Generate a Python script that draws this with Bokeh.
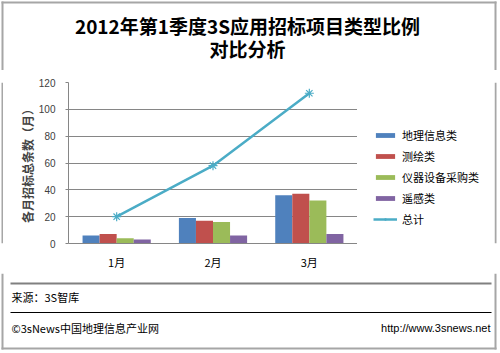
from bokeh.plotting import figure
from bokeh.layouts import column, row
from bokeh.models import (FactorRange, Range1d, FixedTicker, Legend, LegendItem)
from bokeh.core.properties import value
from bokeh.transform import dodge
from bokeh.embed import file_html
from bokeh.resources import INLINE

months = ["1月", "2月", "3月"]
series_names = ["地理信息类", "测绘类", "仪器设备采购类", "遥感类"]
geo = [6, 19, 36]
survey = [7, 17, 37]
instrument = [4, 16, 32]
remote = [3, 6, 7]
total = [20, 58, 112]
y_ticks = [0, 20, 40, 60, 80, 100, 120]
colors = ["#4F81BD", "#C0504D", "#9BBB59", "#8064A2"]
line_color = "#4BACC6"

title1 = "2012年第1季度3S应用招标项目类型比例"
title2 = "对比分析"
y_label = "各月招标总条数（月）"
source_text = "来源：3S智库"
footer_left = "©3sNews中国地理信息产业网"
footer_right = "http://www.3snews.net"

CJK = "Noto Sans CJK SC"
BORDER = "#A6A6A6"


def blank(w, h):
    f = figure(width=w, height=h, x_range=Range1d(0, w), y_range=Range1d(h, 0),
               output_backend="svg", toolbar_location=None,
               x_axis_location=None, y_axis_location=None,
               min_border=0, min_border_left=0, min_border_right=0,
               min_border_top=0, min_border_bottom=0)
    f.grid.visible = False
    f.outline_line_color = None
    f.background_fill_color = "white"
    f.border_fill_color = "white"
    return f


# ---- title area (y 0..70)
top = blank(500, 70)
top.quad(left=[1, 1, 494], right=[496, 3, 496], top=[1, 1, 1], bottom=[3, 70, 70],
         fill_color=BORDER, line_color=None)
top.text(x=[247, 247], y=[25, 48], text=[title1, title2], text_font=value(CJK),
         text_font_size="19px", text_font_style="bold", text_align="center",
         text_baseline="middle", text_color="#000000")

# ---- main chart (y 70..273, x 3..357)
MW, MH = 354, 203
p = figure(width=MW, height=MH, x_range=FactorRange(*months), y_range=Range1d(0, 120),
           output_backend="svg", toolbar_location=None,
           min_border_left=65, min_border_right=0,
           min_border_top=12, min_border_bottom=30)
p.outline_line_color = None
p.background_fill_color = "white"
p.border_fill_color = "white"

data = dict(m=months, s0=geo, s1=survey, s2=instrument, s3=remote, t=total)
keys = ["s0", "s1", "s2", "s3"]
bw = 0.177
for i, key in enumerate(keys):
    p.vbar(x=dodge("m", (i - 1.5) * bw, range=p.x_range), top=key, width=bw,
           source=data, fill_color=colors[i], line_color=None)
p.line(x="m", y="t", source=data, line_color=line_color, line_width=2.5)
p.scatter(x="m", y="t", source=data, marker="asterisk", size=9,
          line_color=line_color, line_width=1.2)

p.yaxis.ticker = FixedTicker(ticks=y_ticks)
p.yaxis.minor_tick_line_color = None
p.yaxis.major_tick_in = 0
p.yaxis.major_tick_out = 3
p.yaxis.major_label_standoff = 10
p.yaxis.axis_line_color = "#868686"
p.yaxis.major_tick_line_color = "#868686"
p.yaxis.major_label_text_font = "Liberation Sans"
p.yaxis.major_label_text_font_size = "10px"
p.yaxis.major_label_text_color = "#404040"
p.yaxis.axis_label = y_label
p.yaxis.axis_label_text_font = CJK
p.yaxis.axis_label_text_font_style = "bold"
p.yaxis.axis_label_text_font_size = "12px"
p.yaxis.axis_label_standoff = 0

p.xaxis.axis_line_color = "#868686"
p.xaxis.major_tick_line_color = None
p.xaxis.major_tick_in = 0
p.xaxis.major_tick_out = 0
p.xaxis.minor_tick_line_color = None
p.xaxis.major_label_standoff = 10
p.xaxis.major_label_text_font = CJK
p.xaxis.major_label_text_font_size = "11px"
p.xaxis.major_label_text_color = "#000000"

p.xgrid.grid_line_color = None
p.ygrid.grid_line_color = "#868686"

# ---- legend panel (x 357..494)
LW = 137
lg = figure(width=LW, height=MH, x_range=FactorRange(*months), y_range=Range1d(0, 120),
            output_backend="svg", toolbar_location=None,
            x_axis_location=None, y_axis_location=None,
            min_border=0, min_border_left=0, min_border_right=0,
            min_border_top=0, min_border_bottom=0)
lg.grid.visible = False
lg.outline_line_color = None
lg.background_fill_color = "white"
lg.border_fill_color = "white"
items = []
for i, key in enumerate(keys):
    r = lg.vbar(x="m", top=key, width=bw, source=data, fill_color=colors[i],
                line_color=None, visible=False)
    items.append(LegendItem(label=series_names[i], renderers=[r]))
rl = lg.line(x="m", y="t", source=data, line_color=line_color, line_width=2.5, visible=False)
rm = lg.scatter(x="m", y="t", source=data, marker="asterisk", size=9,
                line_color=line_color, line_width=1.2, visible=False)
items.append(LegendItem(label="总计", renderers=[rl, rm]))
legend = Legend(items=items, location=(16, 16), padding=0, margin=0,
                border_line_color=None, background_fill_alpha=0,
                glyph_width=24, glyph_height=6, label_height=16, spacing=5,
                label_standoff=5, label_text_font=CJK, label_text_font_size="11px",
                label_text_color="#000000", label_text_baseline="middle")
lg.add_layout(legend, "center")

left_strip = blank(3, MH)
left_strip.quad(left=[1], right=[3], top=[0], bottom=[MH], fill_color=BORDER, line_color=None)
right_strip = blank(6, MH)
right_strip.quad(left=[0], right=[2], top=[0], bottom=[MH], fill_color=BORDER, line_color=None)

# ---- footer area (y 273..353)
bot = blank(500, 80)
bot.quad(left=[1, 1, 494], right=[496, 3, 496], top=[74, 0, 0], bottom=[76, 76, 76],
         fill_color=BORDER, line_color=None)
bot.quad(left=[10, 10], right=[491, 491], top=[9, 38.5], bottom=[11, 39.5],
         fill_color=["#808080", "#000000"], line_color=None)
bot.text(x=[11, 11], y=[23, 54], text=[source_text, footer_left], text_font=value(CJK),
         text_font_size="11px", text_align="left", text_baseline="middle",
         text_color="#000000")
bot.text(x=[490], y=[54], text=[footer_right], text_font=value("Liberation Sans"),
         text_font_size="11px", text_align="right", text_baseline="middle",
         text_color="#000000")

layout = column(top, row(left_strip, p, lg, right_strip), bot)
open("out.html", "w").write(file_html(layout, INLINE))
